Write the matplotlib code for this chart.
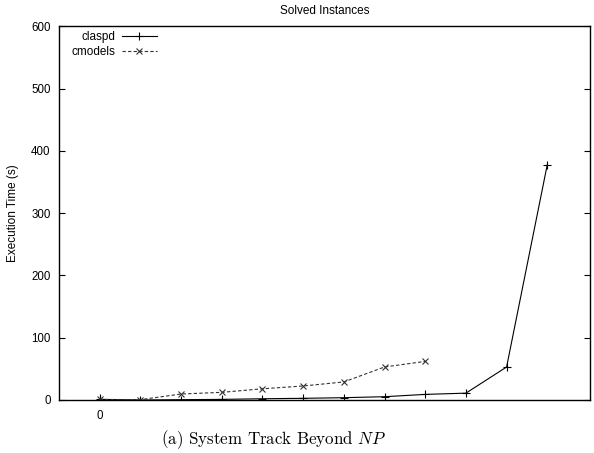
import numpy as np
import matplotlib
matplotlib.use('Agg')
import matplotlib.pyplot as plt

# =============================================================================
# DATA
# =============================================================================
claspd_x  = [0, 1, 2, 3, 4, 5, 6, 7, 8, 9, 10, 11]
claspd_y  = [1, 0, 0.5, 1, 2, 2.7, 3.7, 5.3, 9, 11, 53, 378]
cmodels_x = [0, 1, 2, 3, 4, 5, 6, 7, 8]
cmodels_y = [1, 0.5, 9.6, 12.3, 18, 22.5, 29, 53, 62]

y_ticks = [0, 100, 200, 300, 400, 500, 600]
x_ticks = [0]

plt.rcParams['font.family'] = ['Liberation Sans', 'DejaVu Sans']
plt.rcParams['mathtext.fontset'] = 'cm'

fig = plt.figure(figsize=(5.94, 4.53), dpi=100)
ax = fig.add_axes([0.0993, 0.117, 0.894, 0.825])

ax.plot(claspd_x, claspd_y, color='black', linewidth=0.8,
        marker='+', markersize=6, markeredgewidth=0.8, label='claspd')
ax.plot(cmodels_x, cmodels_y, color='#333333', linewidth=0.8, linestyle=(0, (3, 2)),
        marker='x', markersize=5, markeredgewidth=0.8, label='cmodels')

ax.set_xlim(-1, 12.05)
ax.set_ylim(0, 600)
ax.set_yticks(y_ticks)
ax.set_xticks(x_ticks)
ax.tick_params(axis='y', direction='in', length=4, width=0.8, labelsize=8.3,
               left=True, right=True, pad=6)
ax.tick_params(axis='x', direction='in', length=4, width=0.8, labelsize=8.3,
               bottom=True, top=False, pad=7)
for s in ax.spines.values():
    s.set_linewidth(1.0)

ax.set_ylabel('Execution Time (s)', fontsize=8.5, labelpad=9)
ax.set_title('Solved Instances', fontsize=8.5, pad=9)

leg = ax.legend(loc='upper left', frameon=False, markerfirst=False,
                fontsize=8.5, handlelength=3.0, handletextpad=0.5,
                labelspacing=0.25, borderaxespad=0, borderpad=0,
                bbox_to_anchor=(0.024, 0.987))

fig.text(0.46, 0.029, r'(a) System Track Beyond $\mathit{NP}$',
         ha='center', va='center', fontsize=12.2, family='cmr10')

fig.savefig('out.png', dpi=100)
